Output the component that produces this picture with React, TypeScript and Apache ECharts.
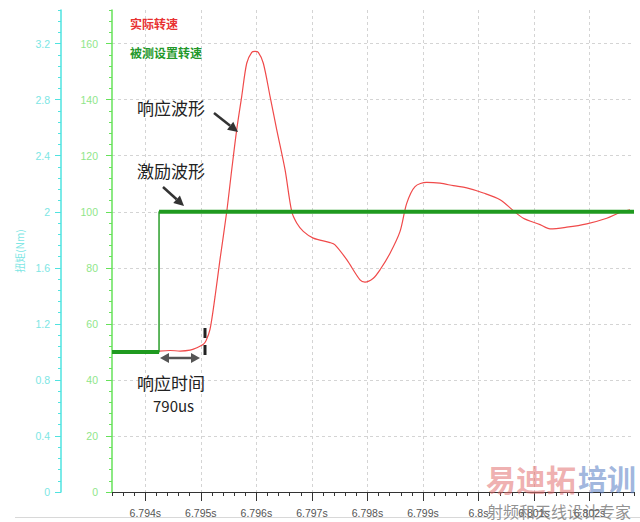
import React, { useEffect, useRef } from "react";
import * as echarts from "echarts";

// x unit: 0.1 ms offset from 6.79 s  (x = (t - 6.79) * 10000)
const xMin = 34;
const xMax = 128;
const greenMax = 172;
const cyanMax = 3.44;

const stepTime = 42.47;
const setBefore = 50;
const setAfter = 100;

const actualX = [
  42.47, 44.45, 46.25, 48.05, 49.31, 50.39, 50.93, 51.65, 52.55, 53.45, 54.66, 55.56,
  56.46, 57.36, 58.26, 59.16, 59.75, 60.35, 61.25, 62.46, 63.66, 65.16, 66.36, 67.26,
  68.45, 70.25, 73.26, 74.16, 76.27, 78.66, 79.56, 81.06, 82.27, 84.07, 85.87, 87.07,
  88.57, 90.67, 93.07, 95.47, 97.88, 100.87, 103.88, 106.27, 108.07, 111.08, 112.88,
  115.89, 119.49, 123.09, 125.49, 127.29,
];
const actualY = [
  50.3, 50.5, 50.3, 50.6, 51.5, 52.6, 54, 58, 69.6, 83, 100, 115,
  129.3, 141.2, 153, 156.9, 157.2, 156.9, 153, 141.2, 129.3, 115, 100.1, 96,
  93, 90.6, 89, 88.2, 82.9, 75.7, 74.9, 76.3, 79.3, 85.2, 93, 103,
  109, 110.5, 110.2, 109.3, 108.5, 106.7, 104.3, 100.4, 97.7, 95.4, 93.9,
  94.5, 95.7, 97.7, 99.75, 100.7,
];

const actualName = "实际转速";
const setName = "被测设置转速";
const cyanAxisName = "扭矩(Nm)";

function fmtX(v: number) {
  return (67900 + v) / 10000 + "s";
}

function arrowHead(x1: number, y1: number, x2: number, y2: number, color: string, len = 10, half = 5) {
  const dx = x2 - x1;
  const dy = y2 - y1;
  const d = Math.hypot(dx, dy);
  const ux = dx / d;
  const uy = dy / d;
  const bx = x2 - ux * len;
  const by = y2 - uy * len;
  return [
    {
      type: "line",
      shape: { x1, y1, x2: bx, y2: by },
      style: { stroke: color, lineWidth: 2.5 },
      z: 100,
    },
    {
      type: "polygon",
      shape: {
        points: [
          [x2, y2],
          [bx - uy * half, by + ux * half],
          [bx + uy * half, by - ux * half],
        ],
      },
      style: { fill: color },
      z: 100,
    },
  ];
}

function doubleArrow(x1: number, x2: number, y: number, color: string) {
  const len = 9;
  const half = 5;
  return [
    {
      type: "line",
      shape: { x1: x1 + len, y1: y, x2: x2 - len, y2: y },
      style: { stroke: color, lineWidth: 2.5 },
      z: 100,
    },
    {
      type: "polygon",
      shape: { points: [[x1, y], [x1 + len, y - half], [x1 + len, y + half]] },
      style: { fill: color },
      z: 100,
    },
    {
      type: "polygon",
      shape: { points: [[x2, y], [x2 - len, y - half], [x2 - len, y + half]] },
      style: { fill: color },
      z: 100,
    },
  ];
}

const cjk = "'Noto Sans CJK SC', 'Noto Sans', sans-serif";

export default function App() {
  const ref = useRef<HTMLDivElement>(null);

  useEffect(() => {
    if (!ref.current) return;
    const chart = echarts.init(ref.current, undefined, { renderer: "svg" });

    const greenAxisColor = "#66e25a";
    const greenLabelColor = "#8fe68a";
    const cyanAxisColor = "#4fe3e0";
    const cyanLabelColor = "#7de6e4";
    const gridLine = { show: true, lineStyle: { color: "#d4d4d4", type: [3, 3] as any, width: 1 } };

    const option: any = {
      animation: false,
      backgroundColor: "#ffffff",
      grid: { left: 112, right: 6, top: 10, bottom: 30, containLabel: false },
      xAxis: [
        {
          type: "value",
          position: "bottom",
          min: xMin,
          max: xMax,
          minInterval: 10,
          maxInterval: 10,
          splitNumber: 9,
          offset: 3,
          axisLine: { show: true, lineStyle: { color: "#333", width: 1 } },
          axisTick: { show: true, length: 9, lineStyle: { color: "#333", width: 1 } },
          axisLabel: {
            formatter: fmtX,
            color: "#555",
            fontSize: 10.5,
            fontFamily: "Arial, 'Liberation Sans', sans-serif",
            margin: 12,
            showMinLabel: false,
            showMaxLabel: false,
          },
          splitLine: { ...gridLine, showMinLine: false, showMaxLine: false },
        },
        {
          type: "value",
          position: "bottom",
          min: xMin,
          max: xMax,
          interval: 2,
          offset: 3,
          axisLine: { show: false },
          axisTick: { show: true, length: 4, lineStyle: { color: "#333", width: 1 } },
          axisLabel: { show: false },
          splitLine: { show: false },
        },
      ],
      yAxis: [
        {
          type: "value",
          position: "left",
          min: 0,
          max: greenMax,
          interval: 20,
          offset: 0,
          axisLine: { show: true, lineStyle: { color: greenAxisColor, width: 1.5 } },
          axisTick: { show: true, length: 6, lineStyle: { color: greenAxisColor, width: 1 } },
          axisLabel: {
            color: greenLabelColor,
            fontSize: 10.5,
            margin: 14,
            fontFamily: "Arial, 'Liberation Sans', sans-serif",
            showMaxLabel: false,
          },
          splitLine: { ...gridLine, showMinLine: false, showMaxLine: false },
        },
        {
          type: "value",
          position: "left",
          min: 0,
          max: greenMax,
          interval: 4,
          offset: 0,
          axisLine: { show: false },
          axisTick: { show: true, length: 3, lineStyle: { color: greenAxisColor, width: 1 } },
          axisLabel: { show: false },
          splitLine: { show: false },
        },
        {
          type: "value",
          position: "left",
          min: 0,
          max: cyanMax,
          interval: 0.4,
          offset: 51,
          name: cyanAxisName,
          nameLocation: "middle",
          nameGap: 34,
          nameRotate: 90,
          nameTextStyle: { color: cyanLabelColor, fontSize: 10, fontFamily: cjk },
          axisLine: { show: true, lineStyle: { color: cyanAxisColor, width: 1.5 } },
          axisTick: { show: true, length: 6, lineStyle: { color: cyanAxisColor, width: 1 } },
          axisLabel: {
            color: cyanLabelColor,
            fontSize: 10.5,
            margin: 11,
            fontFamily: "Arial, 'Liberation Sans', sans-serif",
            showMaxLabel: false,
          },
          splitLine: { show: false },
        },
        {
          type: "value",
          position: "left",
          min: 0,
          max: cyanMax,
          interval: 0.08,
          offset: 51,
          axisLine: { show: false },
          axisTick: { show: true, length: 3, lineStyle: { color: cyanAxisColor, width: 1 } },
          axisLabel: { show: false },
          splitLine: { show: false },
        },
      ],
      series: [
        {
          name: actualName,
          type: "line",
          xAxisIndex: 0,
          yAxisIndex: 0,
          data: actualX.map((x, i) => [x, actualY[i]]),
          symbol: "none",
          smooth: 0.3,
          lineStyle: { color: "#f04a4a", width: 1.2 },
          z: 2,
        },
        {
          name: setName,
          type: "line",
          xAxisIndex: 0,
          yAxisIndex: 0,
          data: [
            [xMin, setBefore],
            [stepTime, setBefore],
            [stepTime, setAfter],
            [xMax, setAfter],
          ],
          symbol: "none",
          lineStyle: { color: "#2a9e2a", width: 1.5 },
          z: 3,
        },
        {
          name: setName + "-a",
          type: "line",
          xAxisIndex: 0,
          yAxisIndex: 0,
          data: [
            [xMin, setBefore],
            [stepTime, setBefore],
          ],
          symbol: "none",
          lineStyle: { color: "#1f9a1f", width: 4 },
          z: 4,
        },
        {
          name: setName + "-b",
          type: "line",
          xAxisIndex: 0,
          yAxisIndex: 0,
          data: [
            [stepTime, setAfter],
            [xMax, setAfter],
          ],
          symbol: "none",
          lineStyle: { color: "#1f9a1f", width: 4 },
          z: 4,
        },
      ],
      graphic: {
        elements: [
          {
            type: "text",
            left: 130,
            top: 17,
            style: { text: actualName, fill: "#e83232", font: `bold 12px ${cjk}` },
            z: 100,
          },
          {
            type: "text",
            left: 130,
            top: 46,
            style: { text: setName, fill: "#23982a", font: `bold 12px ${cjk}` },
            z: 100,
          },
          {
            type: "text",
            left: 137,
            top: 99,
            style: { text: "响应波形", fill: "#222", font: `17px ${cjk}` },
            z: 100,
          },
          {
            type: "text",
            left: 137,
            top: 162,
            style: { text: "激励波形", fill: "#222", font: `17px ${cjk}` },
            z: 100,
          },
          {
            type: "text",
            left: 137,
            top: 374,
            style: { text: "响应时间", fill: "#222", font: `17px ${cjk}` },
            z: 100,
          },
          {
            type: "text",
            left: 153,
            top: 398,
            style: { text: "790us", fill: "#222", font: `15px ${cjk}` },
            z: 100,
          },
          ...arrowHead(214, 113, 238, 132, "#333"),
          ...arrowHead(163, 187, 184, 206, "#333"),
          ...doubleArrow(160, 200, 358, "#555"),
          {
            type: "line",
            shape: { x1: 205, y1: 328, x2: 205, y2: 362 },
            style: { stroke: "#222", lineWidth: 3, lineDash: [10, 7] },
            z: 100,
          },
          {
            type: "line",
            shape: { x1: 15, y1: 517.5, x2: 640, y2: 517.5 },
            style: { stroke: "#d8d8d8", lineWidth: 1 },
            z: 1,
          },
          {
            type: "text",
            left: 486,
            top: 463,
            style: { text: "易迪拓", fill: "rgba(226,110,110,0.55)", font: `bold 30px ${cjk}` },
            z: 110,
          },
          {
            type: "text",
            left: 578,
            top: 463,
            style: { text: "培训", fill: "rgba(100,135,200,0.6)", font: `bold 29px ${cjk}` },
            z: 110,
          },
          {
            type: "text",
            left: 487,
            top: 503,
            style: { text: "射频和天线设计专家", fill: "rgba(110,110,110,0.75)", font: `16px ${cjk}` },
            z: 110,
          },
        ],
      },
    };

    chart.setOption(option);
    return () => chart.dispose();
  }, []);

  return (
    <div
      ref={ref}
      style={{ position: "fixed", left: 0, top: 0, width: 640, height: 522, background: "#fff" }}
    />
  );
}
